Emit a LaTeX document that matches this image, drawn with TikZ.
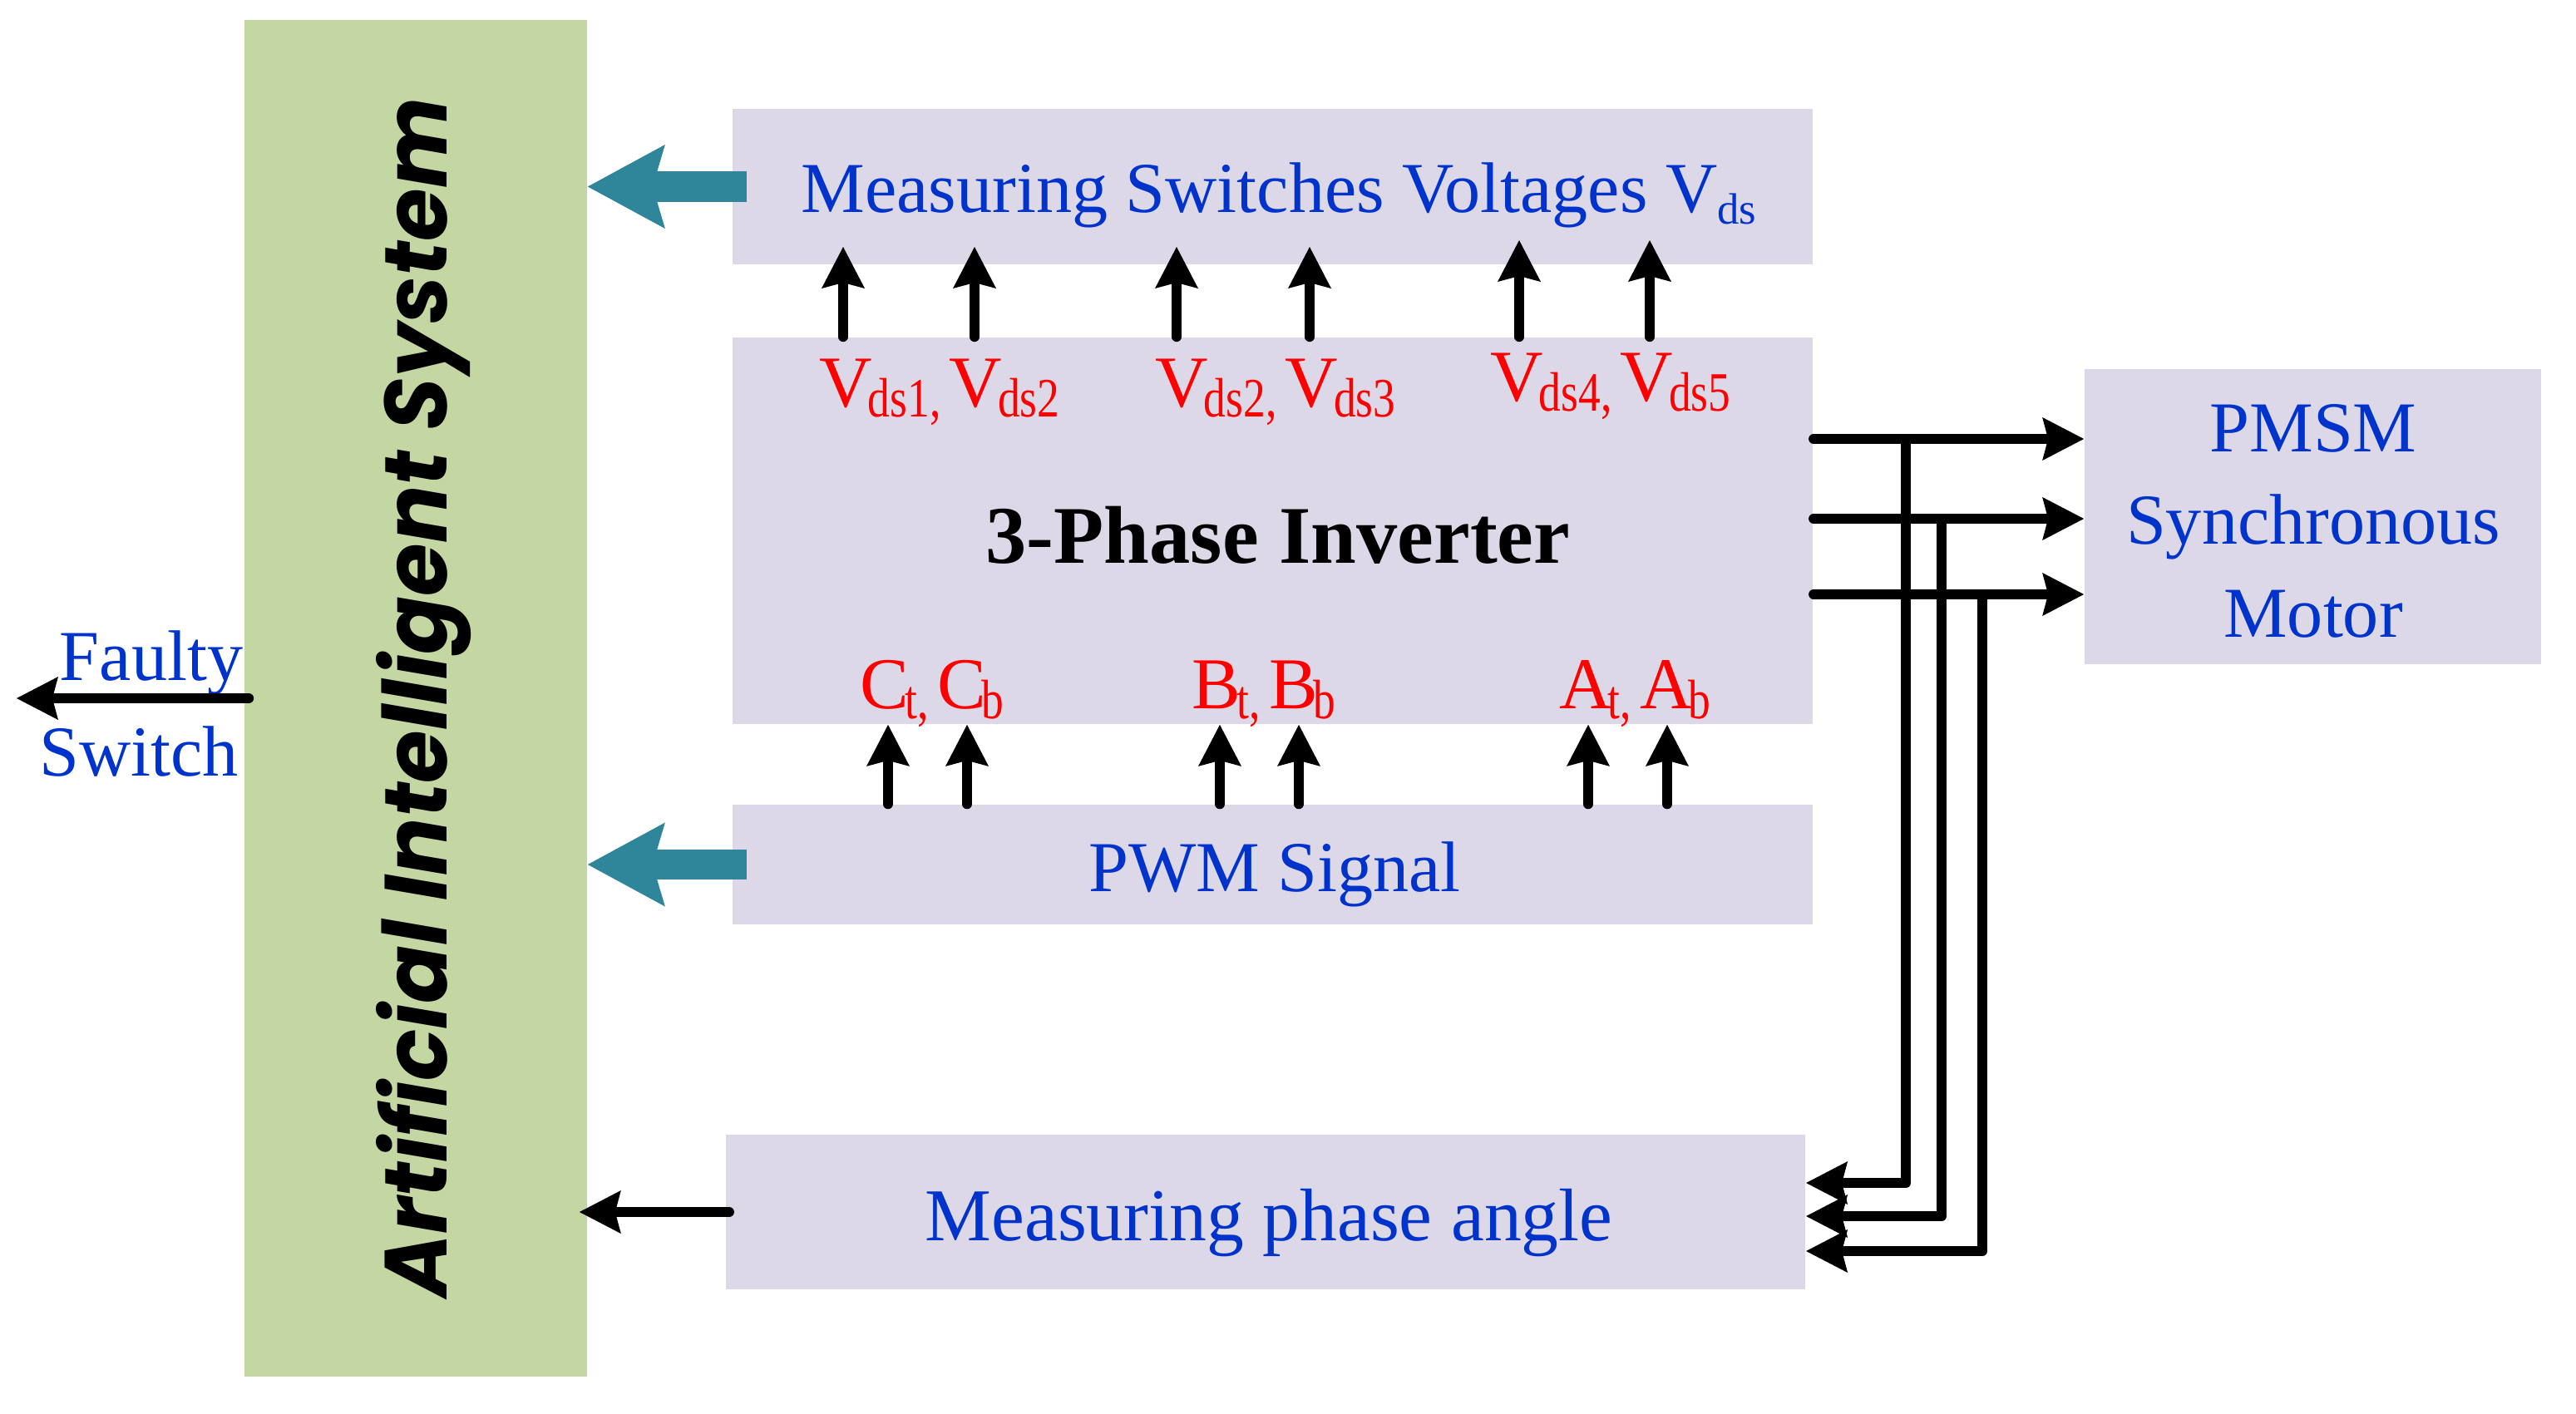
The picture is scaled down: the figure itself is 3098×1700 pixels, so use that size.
\documentclass[tikz,border=0pt]{standalone}
\usepackage{graphicx}
\usepackage{fontspec}
\setmainfont{Liberation Serif}
\newfontfamily\aifont{Poppins}
\usetikzlibrary{arrows.meta,calc}
\definecolor{boxfill}{RGB}{221,216,231}
\definecolor{aigreen}{RGB}{196,214,161}
\definecolor{tblue}{RGB}{0,51,204}
\definecolor{tred}{RGB}{255,0,0}
\definecolor{arrteal}{RGB}{47,133,153}
\newcommand\sbt[1]{\kern-1.5pt\raisebox{-3.6pt}{\scalebox{0.8}[1]{\fontsize{19}{19}\selectfont #1}}}
\newcommand\sbs[1]{\raisebox{-4pt}{\fontsize{15}{15}\selectfont #1}}
\newcommand\gap{\hspace{3pt}}
\begin{document}
\begin{tikzpicture}[x=0.01cm,y=-0.01cm,
  box/.style={fill=boxfill, draw=none, inner sep=0pt},
  btext/.style={text=tblue, inner sep=0pt, font=\fontsize{24.5}{29}\selectfont},
  rtext/.style={text=tred, inner sep=0pt, font=\fontsize{25}{30}\selectfont},
  blk/.style={draw=black, line width=0.12cm, line cap=round, line join=round,
    -{Stealth[length=0.5cm,width=0.52cm,inset=0.07cm,line width=0pt]}},
  tealarr/.style={draw=arrteal, line width=0.36cm,
    -{Stealth[length=0.93cm,width=1.01cm,inset=0.15cm,line width=0pt]}}
  ]
\useasboundingbox (0,0) rectangle (3098,1700);

% boxes
\node[box, fill=aigreen, minimum width=4.12cm, minimum height=16.32cm] (ai) at (500,840) {};
\node[box, minimum width=12.99cm, minimum height=1.87cm] (msv) at (1530.5,224.5) {};
\node[box, minimum width=12.99cm, minimum height=4.65cm] (inv) at (1530.5,638.5) {};
\node[box, minimum width=12.99cm, minimum height=1.44cm] (pwm) at (1530.5,1040) {};
\node[box, minimum width=12.98cm, minimum height=1.86cm] (pha) at (1522,1458) {};
\node[box, minimum width=5.49cm, minimum height=3.55cm] (pmsm) at (2781.5,621.5) {};

% texts
\node[rotate=90, anchor=base, inner sep=0pt] (aitext) at (537,839)
  {\resizebox{14.42cm}{0.85cm}{\aifont\bfseries\itshape Artificial Intelligent System}};
\node[btext, anchor=base] (msvt) at (1538,255) {Measuring Switches Voltages V\sbs{ds}};
\node[anchor=base, inner sep=0pt, font=\fontsize{28}{34}\selectfont\bfseries] (invt) at (1537,677) {3-Phase Inverter};
\node[btext, anchor=base] (pwmt) at (1533,1072) {PWM Signal};
\node[btext, anchor=base, font=\fontsize{25.5}{30}\selectfont] (phat) at (1526,1492) {Measuring phase angle};
\node[btext, anchor=base] (pm1) at (2782,543) {PMSM};
\node[btext, anchor=base] (pm2) at (2782,654) {Synchronous};
\node[btext, anchor=base] (pm3) at (2782,766) {Motor};
\node[btext, anchor=base] (fs1) at (182,818) {Faulty};
\node[btext, anchor=base] (fs2) at (167,933) {Switch};

% red labels
\node[rtext, anchor=base] (v12) at (1130,489) {V\sbt{ds1,}\gap V\sbt{ds2}};
\node[rtext, anchor=base] (v23) at (1534,489) {V\sbt{ds2,}\gap V\sbt{ds3}};
\node[rtext, anchor=base] (v45) at (1937,482) {V\sbt{ds4,}\gap V\sbt{ds5}};
\node[rtext, anchor=base] (cl) at (1121,852) {C\sbt{t,}\gap C\sbt{b}};
\node[rtext, anchor=base] (bl) at (1520,852) {B\sbt{t,}\gap B\sbt{b}};
\node[rtext, anchor=base] (al) at (1966,852) {A\sbt{t,}\gap A\sbt{b}};

% teal arrows to AI
\draw[tealarr] ($(msv.west)+(18,0)$) -- (ai.east |- msv.west);
\draw[tealarr] ($(pwm.west)+(18,0)$) -- (ai.east |- pwm.west);

% phase angle to AI
\draw[blk] ($(pha.west)+(5,0)$) -- ($(ai.east |- pha.west)+(-10,0)$);

% faulty switch output
\coordinate (fsout) at (20,840);
\draw[blk] ($(ai.west |- fsout)+(6,0)$) -- (fsout);

% inverter -> measuring switches voltages
\foreach \xx/\yy in {1014/297,1172/297,1415/297,1575/297,1827/289,1984/289}
  \draw[blk] (inv.north -| \xx,0) -- (\xx,\yy);

% PWM -> inverter
\foreach \xx in {1068,1163,1467,1562,1910,2005}
  \draw[blk] (pwm.north -| \xx,0) -- (inv.south -| \xx,0);

% inverter -> motor
\foreach \yy in {528,624,715}
  \draw[blk] (inv.east |- 0,\yy) -- (pmsm.west |- 0,\yy);

% taps to measuring phase angle
\coordinate (t1) at (2292,528);
\coordinate (t2) at (2335,624);
\coordinate (t3) at (2384,715);
\draw[blk] (t1) |- (pha.east |- 0,1423);
\draw[blk] (t2) |- (pha.east |- 0,1463);
\draw[blk] (t3) |- (pha.east |- 0,1505);
\end{tikzpicture}
\end{document}
